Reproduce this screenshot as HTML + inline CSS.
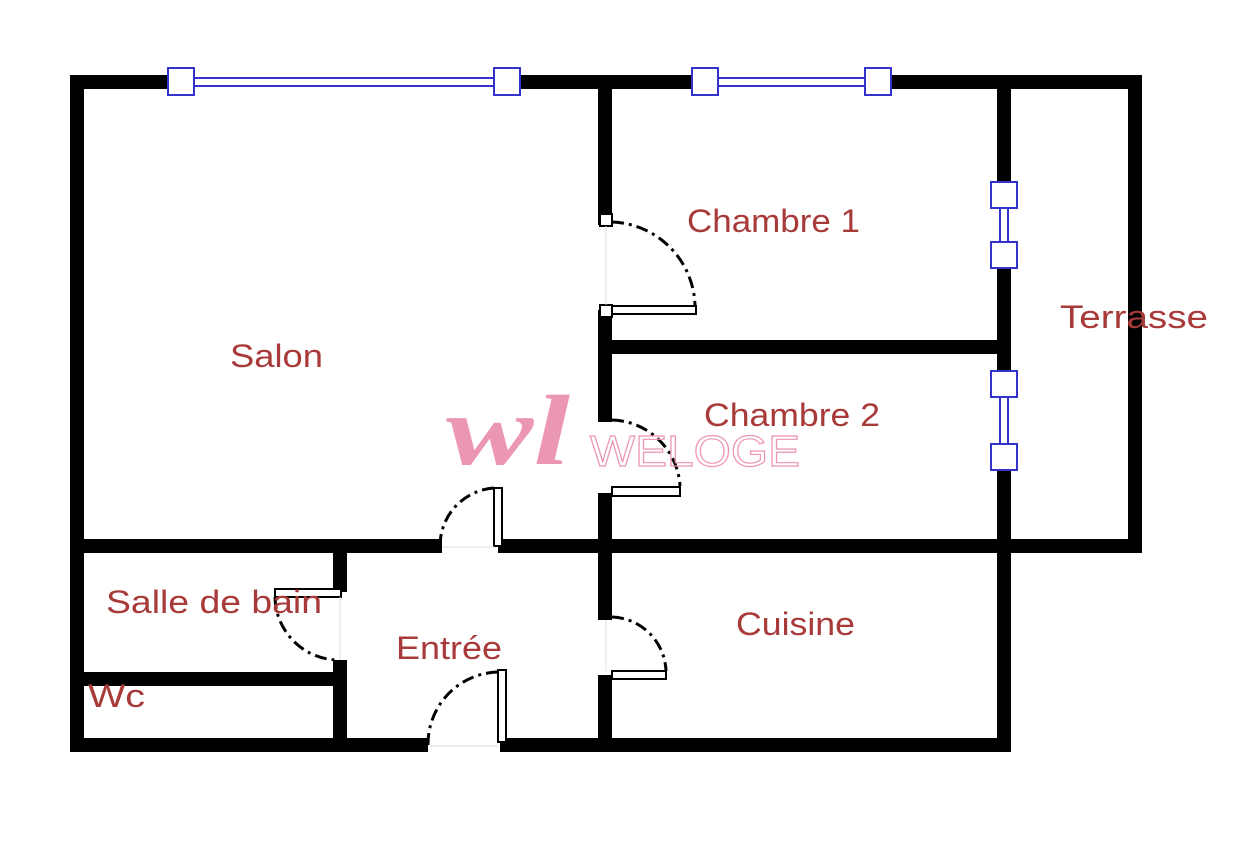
<!DOCTYPE html>
<html><head><meta charset="utf-8"><style>body{margin:0;background:#fff}svg{display:block}</style></head><body>
<svg width="1252" height="846" xmlns="http://www.w3.org/2000/svg">
<rect width="1252" height="846" fill="#fff"/>
<g fill="#000">
<rect x="70" y="75" width="1072" height="14"/>
<rect x="70" y="82" width="14" height="670"/>
<rect x="1128" y="82" width="14" height="470"/>
<rect x="70" y="539" width="372" height="14"/>
<rect x="498" y="539" width="644" height="14"/>
<rect x="598" y="82" width="14" height="143"/>
<rect x="598" y="310" width="14" height="112"/>
<rect x="598" y="493" width="14" height="127"/>
<rect x="598" y="675" width="14" height="77"/>
<rect x="605" y="340" width="400" height="14"/>
<rect x="997" y="82" width="14" height="670"/>
<rect x="70" y="738" width="358" height="14"/>
<rect x="500" y="738" width="511" height="14"/>
<rect x="333" y="547" width="14" height="45"/>
<rect x="333" y="660" width="14" height="92"/>
<rect x="70" y="672" width="277" height="14"/>
</g>
<g stroke="#3333cc" fill="#fff" stroke-width="2">
<rect x="180" y="74" width="328" height="16" fill="#fff" stroke="none"/>
<line x1="180" y1="78" x2="508" y2="78"/><line x1="180" y1="86" x2="508" y2="86"/>
<rect x="705" y="74" width="173" height="16" fill="#fff" stroke="none"/>
<line x1="705" y1="78" x2="878" y2="78"/><line x1="705" y1="86" x2="878" y2="86"/>
<rect x="996" y="195" width="16" height="60" fill="#fff" stroke="none"/>
<line x1="1000" y1="195" x2="1000" y2="255"/><line x1="1008" y1="195" x2="1008" y2="255"/>
<rect x="996" y="384" width="16" height="73" fill="#fff" stroke="none"/>
<line x1="1000" y1="384" x2="1000" y2="457"/><line x1="1008" y1="384" x2="1008" y2="457"/>
<rect x="168" y="68" width="26" height="27"/><rect x="494" y="68" width="26" height="27"/>
<rect x="692" y="68" width="26" height="27"/><rect x="865" y="68" width="26" height="27"/>
<rect x="991" y="182" width="26" height="26"/><rect x="991" y="242" width="26" height="26"/>
<rect x="991" y="371" width="26" height="26"/><rect x="991" y="444" width="26" height="26"/>
</g>
<g fill="#fff" stroke="#000" stroke-width="2">
<rect x="600" y="214" width="12" height="12"/><rect x="600" y="305" width="12" height="12"/>
<rect x="612" y="306" width="84" height="8"/>
<rect x="612" y="487" width="68" height="9"/>
<rect x="494" y="488" width="8" height="58"/>
<rect x="275" y="589" width="66" height="8"/>
<rect x="612" y="671" width="54" height="8"/>
<rect x="498" y="670" width="8" height="72"/>
</g>
<g fill="none" stroke="#000" stroke-width="3" stroke-dasharray="12,5,3,5">
<path d="M612 222 A86 86 0 0 1 695 306"/>
<path d="M612 420 A70 70 0 0 1 680 486"/>
<path d="M440 546 A58 58 0 0 1 494 488"/>
<path d="M275 597 A64 64 0 0 0 340 660"/>
<path d="M612 617 A56 56 0 0 1 666 671"/>
<path d="M428 745 A72 72 0 0 1 498 672"/>
</g>
<g stroke="#ddd" stroke-width="1">
<line x1="606" y1="226" x2="606" y2="305"/><line x1="340" y1="597" x2="340" y2="660"/>
<line x1="442" y1="547" x2="494" y2="547"/><line x1="430" y1="746" x2="498" y2="746"/>
<line x1="606" y1="620" x2="606" y2="671"/>
</g>
<g font-family="Liberation Sans, sans-serif" font-size="32" fill="#a83a3a" lengthAdjust="spacingAndGlyphs">
<text x="230" y="367" textLength="93" lengthAdjust="spacingAndGlyphs">Salon</text>
<text x="687" y="232" textLength="173" lengthAdjust="spacingAndGlyphs">Chambre 1</text>
<text x="704" y="426" textLength="176" lengthAdjust="spacingAndGlyphs">Chambre 2</text>
<text x="1060" y="328" textLength="148" lengthAdjust="spacingAndGlyphs">Terrasse</text>
<text x="106" y="613" textLength="216" lengthAdjust="spacingAndGlyphs">Salle de bain</text>
<text x="396" y="659" textLength="106" lengthAdjust="spacingAndGlyphs">Entrée</text>
<text x="736" y="635" textLength="119" lengthAdjust="spacingAndGlyphs">Cuisine</text>
<text x="88" y="707" textLength="57" lengthAdjust="spacingAndGlyphs">Wc</text>
</g>
<g fill="#ec97b1">
<text x="446" y="464" font-family="Liberation Serif, serif" font-style="italic" font-weight="bold" font-size="100" textLength="124" lengthAdjust="spacingAndGlyphs">wl</text>
<text x="590" y="466" font-family="Liberation Sans, sans-serif" font-size="44" fill="none" stroke="#ec97b1" stroke-width="1.2" textLength="210" lengthAdjust="spacingAndGlyphs">WELOGE</text>
</g>
</svg>
</body></html>
